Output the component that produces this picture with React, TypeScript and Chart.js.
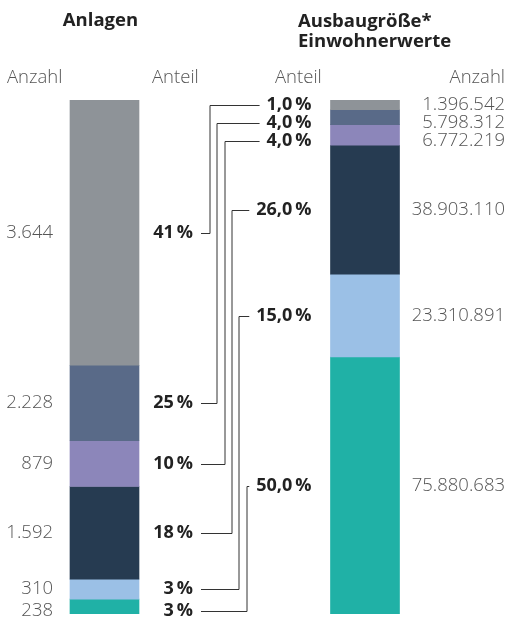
import React, { useEffect, useRef } from "react";
import { Chart, registerables } from "chart.js";
Chart.register(...registerables);

// Segments listed top to bottom
const segmentColors = ["#8e9398", "#596a88", "#8c86ba", "#263b51", "#9bc0e6", "#20b1a6"];
const barCategories = ["Anlagen", "", "Einwohnerwerte"];
const anlagenAnzahl = ["3.644", "2.228", "879", "1.592", "310", "238"];
const anlagenAnteil = ["41\u2009%", "25\u2009%", "10\u2009%", "18\u2009%", "3\u2009%", "3\u2009%"];
const anlagenBar = [51.6, 14.7, 8.9, 18.0, 3.9, 2.9];
const ewAnzahl = ["1.396.542", "5.798.312", "6.772.219", "38.903.110", "23.310.891", "75.880.683"];
const ewAnteil = ["1,0\u2009%", "4,0\u2009%", "4,0\u2009%", "26,0\u2009%", "15,0\u2009%", "50,0\u2009%"];
const ewBar = [1.9, 2.9, 4.0, 25.1, 16.1, 50.0];

const LIGHT = "300 18.5px 'Open Sans'";
const BOLD = "bold 18px 'Open Sans'";
const HEAD = "bold 18.5px 'Open Sans'";
const GREY_TXT = "#555";
const DARK_TXT = "#222";

function spread(mids: number[], gap: number) {
  const out: number[] = [];
  mids.forEach((m, i) => {
    out.push(i === 0 ? m : Math.max(m, out[i - 1] + gap));
  });
  return out;
}

const labelPlugin = {
  id: "labels",
  afterDatasetsDraw(chart: any) {
    const ctx = chart.ctx as CanvasRenderingContext2D;
    const n = segmentColors.length;
    const segs = (idx: number) =>
      Array.from({ length: n }, (_, i) => {
        const el: any = chart.getDatasetMeta(i).data[idx];
        const top = Math.min(el.y, el.base);
        const bot = Math.max(el.y, el.base);
        return { top, bot, mid: (top + bot) / 2, left: el.x - el.width / 2, right: el.x + el.width / 2, cx: el.x };
      });
    const L = segs(0);
    const R = segs(2);
    const leftY = spread(L.map((s) => s.mid), 22);
    const rightY = spread(R.map((s) => s.mid), 18);
    ctx.save();

    // Headings
    ctx.fillStyle = DARK_TXT;
    ctx.font = HEAD;
    ctx.textBaseline = "alphabetic";
    ctx.textAlign = "center";
    ctx.fillText(barCategories[0], L[0].cx - 4, 26);
    ctx.textAlign = "left";
    ctx.fillText("Ausbaugröße*", 298, 27);
    ctx.fillText(barCategories[2], 298, 47);

    // Column headers
    ctx.font = LIGHT;
    ctx.fillStyle = GREY_TXT;
    ctx.textAlign = "left";
    ctx.fillText("Anzahl", 7, 83);
    ctx.fillText("Anteil", 152, 83);
    ctx.fillText("Anteil", 275, 83);
    ctx.textAlign = "right";
    ctx.fillText("Anzahl", 505, 83);

    ctx.textBaseline = "middle";
    // Left counts
    ctx.textAlign = "right";
    L.forEach((s, i) => ctx.fillText(anlagenAnzahl[i], s.left - 17, leftY[i]));
    // Right counts
    R.forEach((s, i) => ctx.fillText(ewAnzahl[i], chart.width - 5, rightY[i]));

    // Percent labels
    ctx.font = BOLD;
    ctx.fillStyle = DARK_TXT;
    const lTextRight = L[0].right + 54;
    const rTextRight = R[0].left - 19;
    L.forEach((_, i) => ctx.fillText(anlagenAnteil[i], lTextRight, leftY[i]));
    R.forEach((_, i) => ctx.fillText(ewAnteil[i], rTextRight, rightY[i]));

    // Leader lines
    ctx.strokeStyle = "#333";
    ctx.lineWidth = 1;
    for (let i = 0; i < n; i++) {
      const vx = Math.round(L[0].right + 71 + i * 7.3);
      const y1 = Math.round(leftY[i]) + 0.5;
      const y2 = Math.round(rightY[i]) + 0.5;
      const wR = ctx.measureText(ewAnteil[i]).width;
      const xEnd = rTextRight - wR - 7;
      ctx.beginPath();
      ctx.moveTo(lTextRight + 8, y1);
      ctx.lineTo(vx, y1);
      ctx.lineTo(vx, y2);
      ctx.lineTo(xEnd, y2);
      ctx.stroke();
    }
    ctx.restore();
  },
};

export default function App() {
  const ref = useRef<HTMLCanvasElement | null>(null);
  useEffect(() => {
    if (!ref.current) return;
    const datasets = segmentColors.map((c, i) => ({
      label: "s" + i,
      data: [anlagenBar[i], null, ewBar[i]],
      backgroundColor: c,
      borderWidth: 0,
      barThickness: 69,
    }));
    const chart = new Chart(ref.current, {
      type: "bar",
      data: { labels: barCategories, datasets: datasets as any },
      options: {
        animation: false,
        responsive: true,
        maintainAspectRatio: false,
        layout: { padding: { left: 39.375, right: 79.875, top: 100, bottom: 6 } },
        scales: {
          x: { display: false, stacked: true },
          y: { display: false, stacked: true, min: 0, max: 100, reverse: true },
        },
        plugins: { legend: { display: false }, tooltip: { enabled: false } },
      },
      plugins: [labelPlugin],
    });
    return () => chart.destroy();
  }, []);
  return (
    <div style={{ position: "absolute", left: 0, top: 0, width: 510, height: 620, background: "#fff" }}>
      <canvas ref={ref} />
    </div>
  );
}
